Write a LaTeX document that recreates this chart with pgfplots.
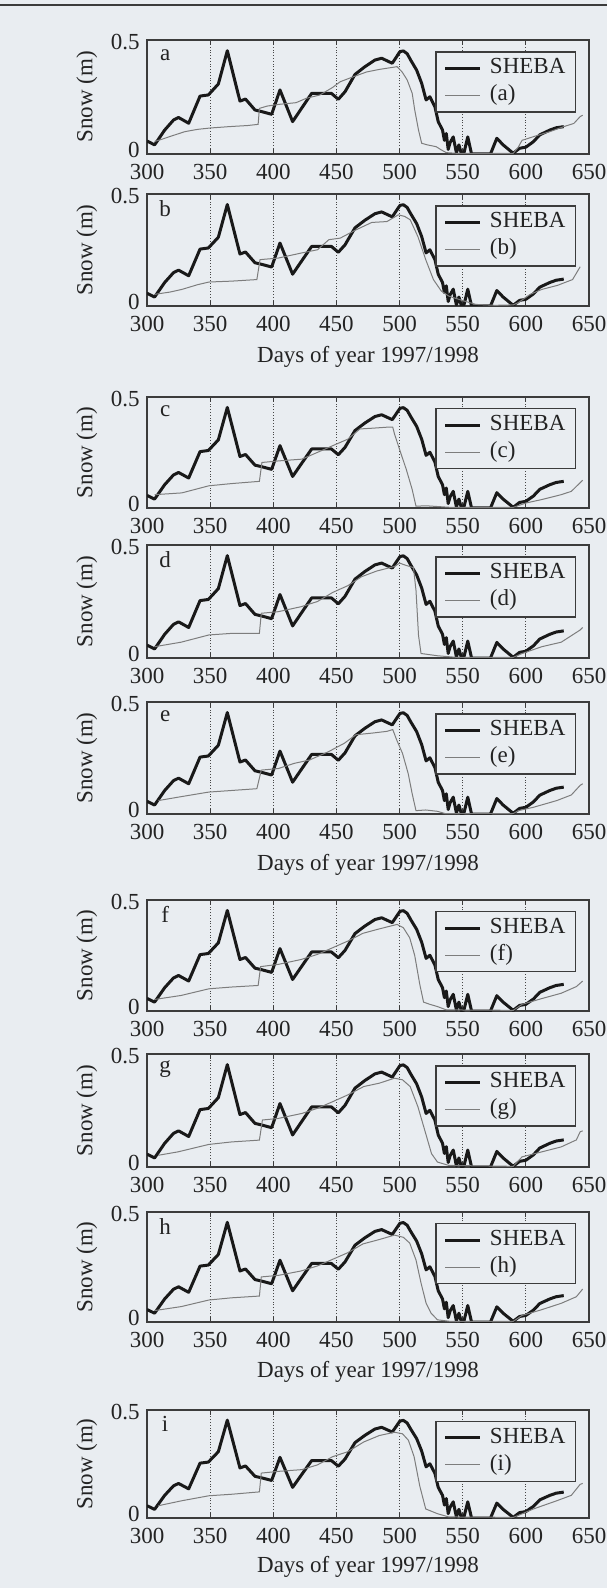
\documentclass[border=0pt]{standalone}
\usepackage{fontspec}
\setmainfont{Liberation Serif}
\usepackage{pgfplots}
\usepackage{pgfplotstable}
\pgfplotsset{compat=1.18}

\definecolor{bgc}{RGB}{233,237,241}
\definecolor{axisc}{RGB}{60,60,60}
\definecolor{gridc}{RGB}{70,70,70}
\definecolor{shebac}{RGB}{25,25,25}
\definecolor{modelc}{RGB}{125,125,125}
\definecolor{txtc}{RGB}{35,35,35}

% SHEBA observations (same in every panel)
\pgfplotstableread{
day snow
300 0.057
306 0.040
314 0.105
321 0.149
325 0.160
333 0.135
342 0.254
348.6 0.259
356.5 0.307
363.6 0.453
373.6 0.232
378 0.241
385.5 0.193
390.8 0.186
398.7 0.174
405.3 0.281
415.3 0.142
421 0.189
430.4 0.266
439.6 0.266
446 0.266
451.5 0.240
456.8 0.273
464.7 0.349
472.6 0.383
480.5 0.412
485.8 0.420
494.2 0.398
500.3 0.449
503 0.452
506 0.440
509 0.410
513.5 0.368
517.5 0.310
521 0.237
524 0.251
528 0.207
530.6 0.142
534 0.105
535.5 0.060
537 0.090
538.5 0.020
540 0.050
542.5 0.075
545 0.005
547 0.040
549 0.000
551 0.005
554 0.075
557 0.000
565 0.000
572 0.000
577 0.069
582 0.040
590 0.003
595 0.025
600 0.030
606 0.054
611 0.084
619 0.105
624 0.115
630 0.120
}\sheba

\pgfplotstableread{
day snow
306 0.055
312 0.065
320 0.080
330 0.098
340 0.108
350 0.114
365 0.120
380 0.125
388 0.130
389 0.200
395 0.210
405 0.218
418 0.225
426 0.244
437 0.259
447 0.292
453 0.317
463 0.338
474 0.360
484 0.371
498 0.383
502 0.360
506 0.325
510 0.266
512 0.193
515 0.105
517.5 0.047
522 0.040
529 0.032
533 0.018
537 0.006
545 0.003
590 0.003
594 0.030
597 0.060
606 0.076
619 0.098
630 0.120
638 0.134
643 0.164
645 0.170
}\greya

\pgfplotstableread{
day snow
306 0.052
318 0.062
327.6 0.074
340 0.095
349 0.107
367 0.111
387 0.118
389.5 0.207
404 0.214
422.6 0.237
435 0.251
444 0.296
453 0.303
465.5 0.340
478 0.373
490 0.377
499 0.407
504 0.400
508.4 0.385
514.5 0.310
520.7 0.207
526.8 0.118
533 0.067
539 0.044
551.3 0.022
560.5 0.007
575.8 0.003
590 0.005
594 0.015
603.4 0.052
612.6 0.074
625 0.092
637 0.118
643 0.175
}\greyb

\pgfplotstableread{
day snow
306 0.060
327.6 0.068
349 0.100
367 0.110
389 0.120
391 0.205
404 0.212
422.6 0.220
438 0.258
450 0.288
459 0.310
468.6 0.356
480 0.360
490 0.364
494.6 0.364
496 0.333
500.8 0.250
505.3 0.174
510 0.083
513 0.008
520.7 0.010
540 0.003
590 0.003
600.4 0.023
612.6 0.038
628 0.060
636 0.075
643 0.114
645 0.125
}\greyc

\pgfplotstableread{
day snow
306 0.050
327 0.070
349 0.102
367 0.109
389 0.109
390.5 0.198
404 0.205
422 0.227
435 0.250
447 0.290
459 0.320
470 0.360
482 0.385
496 0.405
500 0.420
505 0.410
511 0.400
513 0.300
515 0.100
517 0.020
530 0.010
545 0.003
590 0.003
597 0.020
612.6 0.050
628 0.070
643 0.124
645 0.135
}\greyd

\pgfplotstableread{
day snow
309 0.060
324.5 0.075
349 0.098
367 0.105
387 0.113
390.5 0.196
404 0.203
416.5 0.226
428.7 0.241
444 0.279
456.3 0.316
465.5 0.354
478 0.361
490 0.369
494.6 0.377
497.7 0.331
502.3 0.271
506.8 0.181
510 0.090
513 0.015
520.7 0.018
530 0.012
536 0.002
590 0.002
594 0.015
606 0.030
624.5 0.060
636 0.085
643 0.128
645 0.135
}\greye

\pgfplotstableread{
day snow
306 0.052
327 0.070
349 0.100
367 0.108
388 0.115
390 0.200
404 0.210
422 0.232
435 0.255
447 0.285
459 0.315
471 0.350
484 0.370
498 0.390
503 0.375
508 0.330
512 0.250
516 0.120
519 0.040
524 0.030
530 0.020
537 0.005
590 0.003
597 0.030
612 0.055
628 0.080
640 0.110
645 0.135
}\greyf

\pgfplotstableread{
day snow
309 0.052
324.5 0.067
349 0.100
367 0.111
389 0.119
391.4 0.208
404 0.215
422.6 0.237
435 0.260
447 0.289
459 0.319
471.6 0.356
484 0.371
496 0.393
502.3 0.386
508.4 0.356
514.5 0.267
520.7 0.148
525.3 0.059
530 0.022
539 0.007
590 0.003
597 0.045
612.6 0.067
628 0.089
640 0.120
643 0.156
645 0.160
}\greyg

\pgfplotstableread{
day snow
306 0.052
327 0.070
349 0.100
367 0.110
389 0.118
390.5 0.205
404 0.212
422 0.232
435 0.255
447 0.285
459 0.315
471 0.355
484 0.375
496 0.395
503 0.385
508 0.359
513 0.282
517 0.177
521 0.086
525 0.040
530 0.010
540 0.003
590 0.003
597 0.030
612 0.055
628 0.085
640 0.115
645 0.150
}\greyh

\pgfplotstableread{
day snow
309 0.057
327.6 0.080
349 0.103
367 0.110
389 0.121
390.5 0.208
404 0.216
422.6 0.224
435 0.246
447 0.284
459 0.307
471.6 0.352
484 0.382
496 0.397
502.3 0.390
507 0.360
511.5 0.284
516 0.148
520.7 0.042
530 0.020
539 0.005
590 0.003
594 0.012
606 0.042
624.5 0.080
636 0.105
643 0.156
645 0.160
}\greyi

\newcommand{\lbl}{\fontsize{11.5}{13}\selectfont}

\pgfplotsset{
  panel/.style={
    scale only axis, width=221pt,
    xmin=300, xmax=650, ymin=0, ymax=0.5,
    xtick={300,350,...,650},
    % labels sit a little inside the box ends, as in the scan
    ytick={0.0175,0.491}, yticklabels={0,0.5},
    ytick style={draw=none},
    xmajorgrids, grid style={densely dotted, gridc, line width=0.4pt},
    axis line style={axisc, line width=0.8pt},
    tick style={axisc, line width=0.5pt}, major tick length=2.5pt,
    tick align=inside,
    ticklabel style={font=\lbl, text=txtc},
    xticklabel style={inner sep=1pt, yshift=-4pt},
    yticklabel style={inner sep=1pt, xshift=-2.5pt},
    /pgf/number format/assume math mode=true,
    ylabel={Snow (m)},
    ylabel style={at={(axis description cs:-0.136,0.5)}, anchor=center, font=\lbl, text=txtc},
    xlabel style={at={(axis description cs:0.5,-0.45)}, anchor=center, font=\lbl, text=txtc},
    legend style={at={(rel axis cs:0.971,0.902)}, anchor=north east,
      draw=axisc, line width=0.8pt, fill=bgc, font=\lbl, text=txtc,
      inner xsep=4pt, inner ysep=1.5pt, column sep=3pt,
      nodes={inner sep=1pt, text height=8.5pt, text depth=3pt}},
    legend cell align=left,
    legend image code/.code={\draw[##1] (0pt,0pt) -- (17.5pt,0pt);},
  },
  sheba/.style={line width=1.5pt, color=shebac, line join=round},
  model/.style={line width=0.5pt, color=modelc},
}

\begin{document}
\begin{tikzpicture}
\fill[bgc] (0pt,0pt) rectangle (303.5pt,-794pt);
\draw[axisc, line width=1pt] (0pt,-2.5pt) -- (303.5pt,-2.5pt);

\begin{axis}[panel, height=57pt, at={(73.5pt,-20pt)}, anchor=north west]
\addplot[sheba] table {\sheba};
\addplot[model] table {\greya};
\legend{SHEBA,(a)}
\node[font=\lbl, text=txtc] at (rel axis cs:0.041,0.87) {a};
\end{axis}

\begin{axis}[panel, height=56pt, at={(73.5pt,-97pt)}, anchor=north west, xlabel={Days of year 1997/1998}]
\addplot[sheba] table {\sheba};
\addplot[model] table {\greyb};
\legend{SHEBA,(b)}
\node[font=\lbl, text=txtc] at (rel axis cs:0.041,0.87) {b};
\end{axis}

\begin{axis}[panel, height=55.5pt, at={(73.5pt,-198.5pt)}, anchor=north west]
\addplot[sheba] table {\sheba};
\addplot[model] table {\greyc};
\legend{SHEBA,(c)}
\node[font=\lbl, text=txtc] at (rel axis cs:0.041,0.87) {c};
\end{axis}

\begin{axis}[panel, height=56.5pt, at={(73.5pt,-272.5pt)}, anchor=north west]
\addplot[sheba] table {\sheba};
\addplot[model] table {\greyd};
\legend{SHEBA,(d)}
\node[font=\lbl, text=txtc] at (rel axis cs:0.041,0.87) {d};
\end{axis}

\begin{axis}[panel, height=56pt, at={(73.5pt,-351pt)}, anchor=north west, xlabel={Days of year 1997/1998}]
\addplot[sheba] table {\sheba};
\addplot[model] table {\greye};
\legend{SHEBA,(e)}
\node[font=\lbl, text=txtc] at (rel axis cs:0.041,0.87) {e};
\end{axis}

\begin{axis}[panel, height=55.5pt, at={(73.5pt,-450pt)}, anchor=north west]
\addplot[sheba] table {\sheba};
\addplot[model] table {\greyf};
\legend{SHEBA,(f)}
\node[font=\lbl, text=txtc] at (rel axis cs:0.041,0.87) {f};
\end{axis}

\begin{axis}[panel, height=56.5pt, at={(73.5pt,-527pt)}, anchor=north west]
\addplot[sheba] table {\sheba};
\addplot[model] table {\greyg};
\legend{SHEBA,(g)}
\node[font=\lbl, text=txtc] at (rel axis cs:0.041,0.87) {g};
\end{axis}

\begin{axis}[panel, height=55pt, at={(73.5pt,-606pt)}, anchor=north west, xlabel={Days of year 1997/1998}]
\addplot[sheba] table {\sheba};
\addplot[model] table {\greyh};
\legend{SHEBA,(h)}
\node[font=\lbl, text=txtc] at (rel axis cs:0.041,0.87) {h};
\end{axis}

\begin{axis}[panel, height=54pt, at={(73.5pt,-705pt)}, anchor=north west, xlabel={Days of year 1997/1998}]
\addplot[sheba] table {\sheba};
\addplot[model] table {\greyi};
\legend{SHEBA,(i)}
\node[font=\lbl, text=txtc] at (rel axis cs:0.041,0.87) {i};
\end{axis}

% keep the page to the scan's frame
\pgfresetboundingbox
\path[use as bounding box] (0pt,0pt) rectangle (303.5pt,-794pt);
\end{tikzpicture}
\end{document}
